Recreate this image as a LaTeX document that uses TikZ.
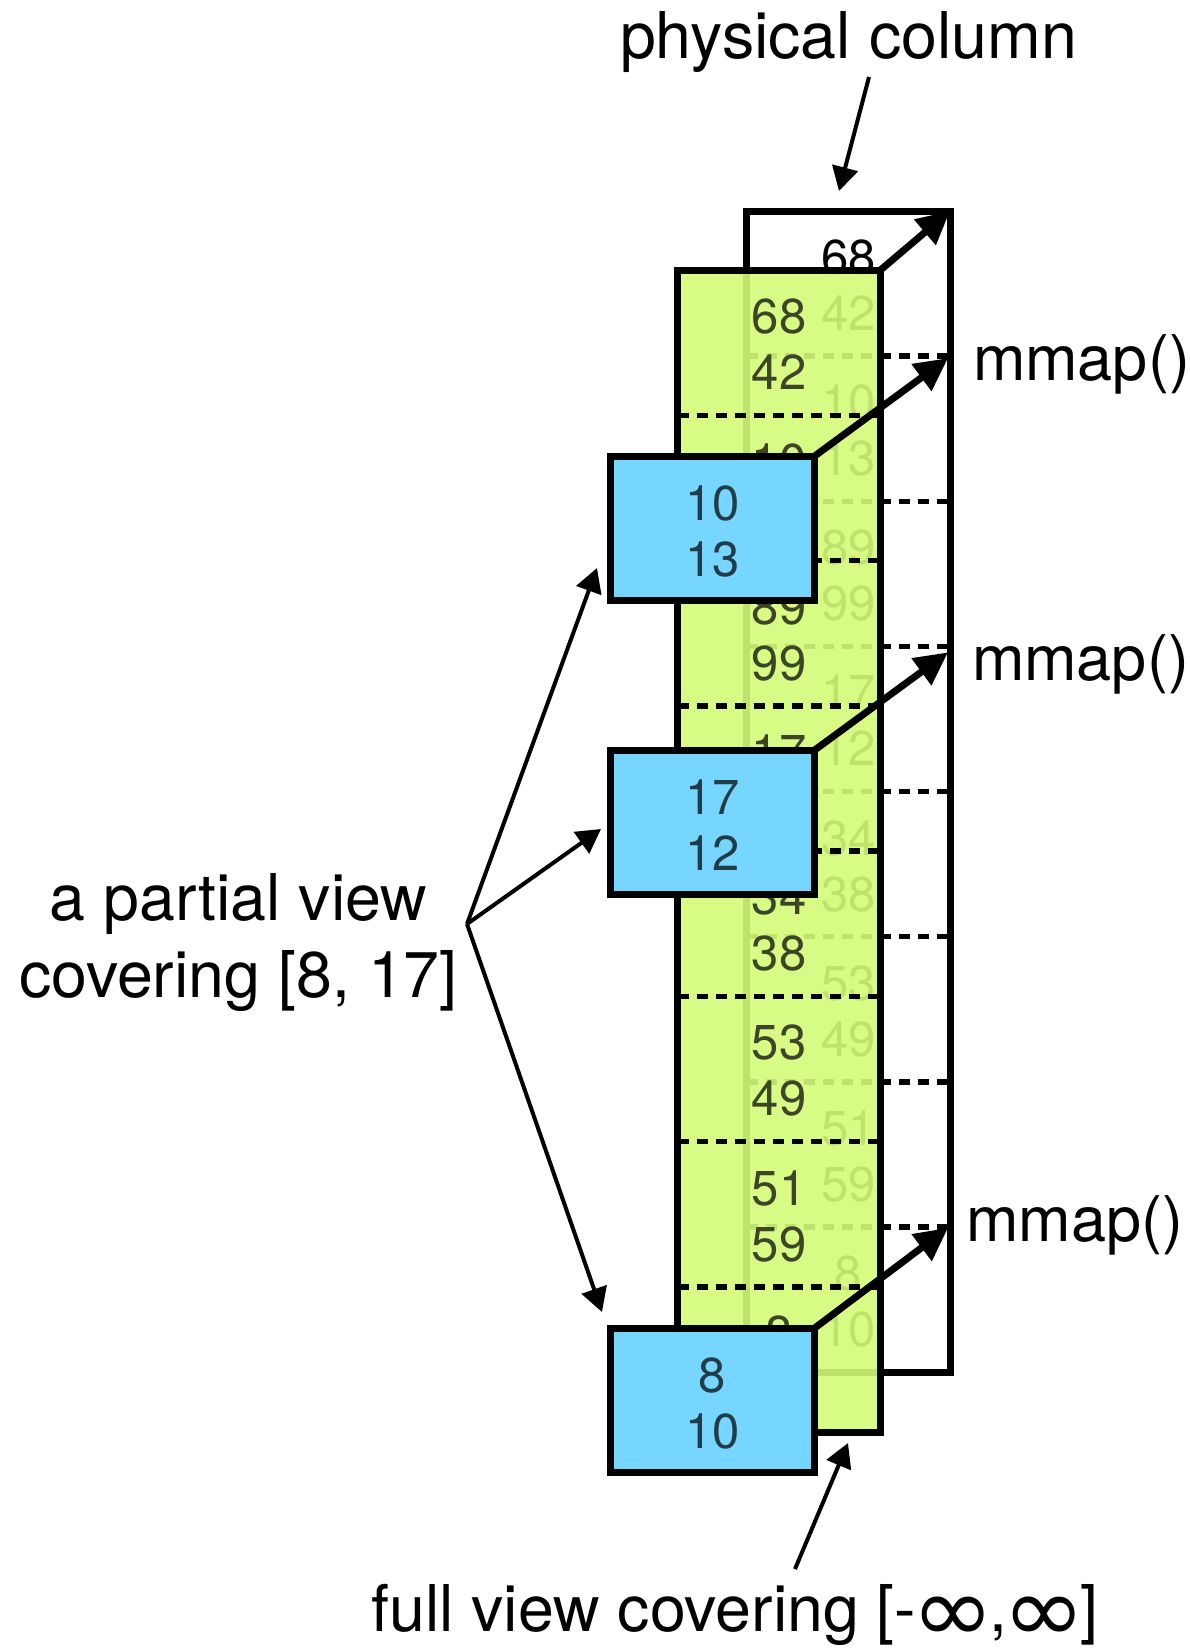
\documentclass[tikz,border=0pt]{standalone}
\usepackage{fontspec}
\setmainfont{TeX Gyre Heros}
\newfontfamily\symfont{DejaVu Sans}
\usetikzlibrary{arrows.meta,calc}

\definecolor{honeydew}{RGB}{212,251,121}
\definecolor{sky}{RGB}{118,214,255}
\definecolor{greentext}{RGB}{60,70,38}
\definecolor{bluetext}{RGB}{33,60,71}

% large infinity sign resting on the baseline of the label type
\newcommand{\biginf}{\kern-5pt\raisebox{-11pt}{\scalebox{1.55}[1.45]{\symfont ∞}}\kern-5pt}

\begin{document}
\begin{tikzpicture}[x=1pt,y=-1pt,
  every node/.style={inner sep=0pt, outer sep=0pt},
  colbox/.style={draw=black, line width=7pt, inner sep=0pt, outer sep=0pt},
  num/.style={font=\fontsize{49}{56}\selectfont, anchor=base},
  lbl/.style={font=\fontsize{64.5}{77}\selectfont, anchor=base},
  mlbl/.style={font=\fontsize{63}{77}\selectfont, anchor=base west},
  pagesep/.style={draw=black, line width=5.5pt, dash pattern=on 11pt off 8pt},
  bigarrow/.style={draw=black, line width=7pt, -{Triangle[length=33pt,width=32pt]}},
  thinarrow/.style={draw=black, line width=4pt, -{Triangle[length=24pt,width=26pt]}},
]
\useasboundingbox (0,0) rectangle (1190,1649);

% ---- physical column (back layer) ----
\node[colbox, fill=white, minimum width=203.5pt, minimum height=1161pt, anchor=north west] (phys) at (746.5,211) {};
\foreach \k in {1,...,7} {
  \draw[pagesep] ($(phys.north west)+(0,\k*145.125)$) -- ($(phys.north east)+(0,\k*145.125)$);
}
\foreach \a/\b [count=\k from 0] in {68/42,10/13,89/99,17/12,34/38,53/49,51/59,8/10} {
  \node[num] (pa\k) at ($(phys.north)+(0,\k*145.125+63.5)$) {\a};
  \node[num] (pb\k) at ($(phys.north)+(0,\k*145.125+119.5)$) {\b};
}

% ---- full view (translucent layer over the column) ----
\node[colbox, fill=honeydew, fill opacity=0.9, draw opacity=1, minimum width=203pt, minimum height=1162pt, anchor=north west] (full) at (677.5,270) {};
\foreach \k in {1,...,7} {
  \draw[pagesep] ($(full.north west)+(0,\k*145.25)$) -- ($(full.north east)+(0,\k*145.25)$);
}
\foreach \a/\b [count=\k from 0] in {68/42,10/13,89/99,17/12,34/38,53/49,51/59,8/10} {
  \node[num, text=greentext] (fa\k) at ($(full.north)+(0,\k*145.25+63.5)$) {\a};
  \node[num, text=greentext] (fb\k) at ($(full.north)+(0,\k*145.25+119.5)$) {\b};
}

% ---- partial view pages ----
\foreach \n/\t/\a/\b in {1/456.5/10/13, 2/750.5/17/12, 3/1328.5/8/10} {
  \node[colbox, fill=sky, minimum width=203.5pt, minimum height=144pt, anchor=north west] (v\n) at (610.5,\t) {};
  \node[num, text=bluetext] (va\n) at ($(v\n.north)+(0,63.5)$) {\a};
  \node[num, text=bluetext] (vb\n) at ($(v\n.north)+(0,120)$) {\b};
}

% ---- mmap arrows ----
\draw[bigarrow] (full.north east) -- (phys.north east);
\coordinate (m1tip) at ($(phys.north east)!1/8!(phys.south east)+(-2,2)$);
\coordinate (m2tip) at ($(phys.north east)!3/8!(phys.south east)+(-2,6)$);
\coordinate (m3tip) at ($(phys.north east)!7/8!(phys.south east)+(-2,1)$);
\draw[bigarrow] (v1.north east) -- (m1tip);
\draw[bigarrow] (v2.north east) -- (m2tip);
\draw[bigarrow] (v3.north east) -- (m3tip);

% ---- labels ----
\node[lbl] (pc) at (848.5,58) {physical column};
\node[mlbl] (mm1) at (973,380) {mmap()};
\node[mlbl] (mm2) at (972,680) {mmap()};
\node[mlbl] (mm3) at (966.5,1241.5) {mmap()};
\node[lbl] (pv1) at (238.5,920) {a partial view};
\node[lbl] (pv2) at (238.5,997) {covering [8, 17]};
\node[lbl] (fv) at (735,1631) {full view covering [-\biginf,\biginf]};

% ---- pointer arrows ----
\coordinate (pcfrom) at (869,77);
\coordinate (pcto) at (839,191);
\draw[thinarrow] (pcfrom) -- (pcto);

\coordinate (fork) at (467,924);
\coordinate (tipA) at (597,568);
\coordinate (tipB) at (601,829);
\coordinate (tipC) at (602,1312);
\draw[thinarrow] (fork) -- (tipA);
\draw[thinarrow] (fork) -- (tipB);
\draw[thinarrow] (fork) -- (tipC);

\coordinate (fvfrom) at (795,1569);
\coordinate (fvto) at (848,1443);
\draw[thinarrow] (fvfrom) -- (fvto);
\end{tikzpicture}
\end{document}
